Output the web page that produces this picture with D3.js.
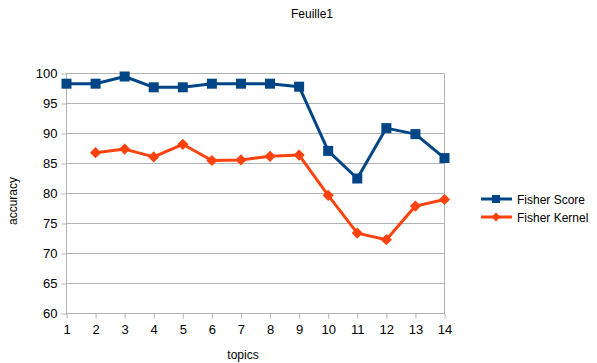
<!DOCTYPE html>
<html>
<head>
<meta charset="utf-8">
<script src="https://cdn.jsdelivr.net/npm/d3@7"></script>
<style>
  html, body { margin: 0; padding: 0; background: #fff; }
  svg { display: block; font-family: "Liberation Sans", Arial, sans-serif; }
</style>
</head>
<body>
<svg id="chart" width="597" height="363"></svg>
<script>
const topics = [1, 2, 3, 4, 5, 6, 7, 8, 9, 10, 11, 12, 13, 14];
const fisherScore = [98.3, 98.3, 99.5, 97.7, 97.7, 98.3, 98.3, 98.3, 97.8, 87.1, 82.5, 90.9, 89.9, 85.9];
const fisherKernel = [null, 86.8, 87.4, 86.1, 88.2, 85.5, 85.6, 86.2, 86.4, 79.7, 73.4, 72.3, 77.9, 79.0];
const yTicks = [60, 65, 70, 75, 80, 85, 90, 95, 100];
const seriesNames = ["Fisher Score", "Fisher Kernel"];

const svg = d3.select("#chart");
const plotLeft = 66.5, plotRight = 444.5, plotTop = 73.5, plotBottom = 313.5;

const x = d3.scaleLinear().domain([1, 14]).range([plotLeft, plotRight]);
const y = d3.scaleLinear().domain([60, 100]).range([plotBottom, plotTop]);

const grid = "#b3b3b3";

// horizontal gridlines
svg.append("g").selectAll("line").data(yTicks).join("line")
  .attr("x1", plotLeft).attr("x2", plotRight)
  .attr("y1", d => y(d)).attr("y2", d => y(d))
  .attr("stroke", grid).attr("stroke-width", 1);

// right border
svg.append("line").attr("x1", plotRight).attr("x2", plotRight).attr("y1", plotTop).attr("y2", plotBottom)
  .attr("stroke", grid);

// y axis
const yAxis = svg.append("g").attr("transform", `translate(${plotLeft},0)`)
  .call(d3.axisLeft(y).tickValues(yTicks).tickSize(5).tickPadding(4));
yAxis.select(".domain").attr("stroke", grid).attr("d", `M0,${plotTop}V${plotBottom}`);
yAxis.selectAll(".tick line").attr("stroke", grid);
yAxis.selectAll(".tick text").attr("font-size", 13).attr("fill", "#000")
  .attr("font-family", "Liberation Sans, Arial, sans-serif");

// x axis
const xAxis = svg.append("g").attr("transform", `translate(0,${plotBottom})`)
  .call(d3.axisBottom(x).tickValues(topics).tickFormat(d3.format("d")).tickSize(5).tickPadding(6));
xAxis.select(".domain").attr("stroke", grid).attr("d", `M${plotLeft},0H${plotRight}`);
xAxis.selectAll(".tick line").attr("stroke", grid);
xAxis.selectAll(".tick text").attr("font-size", 13).attr("fill", "#000")
  .attr("font-family", "Liberation Sans, Arial, sans-serif");

// titles
svg.append("text").attr("x", 312).attr("y", 18).attr("text-anchor", "middle")
  .attr("font-size", 12).text("Feuille1");
svg.append("text").attr("x", 243).attr("y", 359).attr("text-anchor", "middle")
  .attr("font-size", 12).text("topics");
svg.append("text").attr("transform", "translate(17,201) rotate(-90)")
  .attr("text-anchor", "middle").attr("font-size", 12).text("accuracy");

const colors = ["#004586", "#ff420e"];
const line = d3.line().defined(d => d[1] != null).x(d => x(d[0])).y(d => y(d[1]));

const scorePts = topics.map((t, i) => [t, fisherScore[i]]);
const kernelPts = topics.map((t, i) => [t, fisherKernel[i]]);

svg.append("path").datum(kernelPts).attr("d", line)
  .attr("fill", "none").attr("stroke", colors[1]).attr("stroke-width", 3).attr("stroke-linejoin", "round");
svg.append("path").datum(scorePts).attr("d", line)
  .attr("fill", "none").attr("stroke", colors[0]).attr("stroke-width", 3).attr("stroke-linejoin", "round");

const diamond = d3.symbol().type(d3.symbolDiamond2).size(80);
svg.append("g").selectAll("path").data(kernelPts.filter(d => d[1] != null)).join("path")
  .attr("transform", d => `translate(${x(d[0])},${y(d[1])})`)
  .attr("d", diamond).attr("fill", colors[1]);

svg.append("g").selectAll("rect").data(scorePts).join("rect")
  .attr("x", d => x(d[0]) - 5).attr("y", d => y(d[1]) - 5)
  .attr("width", 10).attr("height", 10).attr("fill", colors[0]);

// legend
const legend = svg.append("g");
seriesNames.forEach((name, i) => {
  const ly = 199 + i * 18;
  legend.append("line").attr("x1", 481).attr("x2", 512).attr("y1", ly).attr("y2", ly)
    .attr("stroke", colors[i]).attr("stroke-width", 3);
  if (i === 0) {
    legend.append("rect").attr("x", 492).attr("y", ly - 4).attr("width", 8).attr("height", 8).attr("fill", colors[0]);
  } else {
    legend.append("path").attr("transform", `translate(496,${ly})`)
      .attr("d", d3.symbol().type(d3.symbolDiamond2).size(50)).attr("fill", colors[1]);
  }
  legend.append("text").attr("x", 517).attr("y", ly + 4.5).attr("font-size", 12).text(name);
});
</script>
</body>
</html>
